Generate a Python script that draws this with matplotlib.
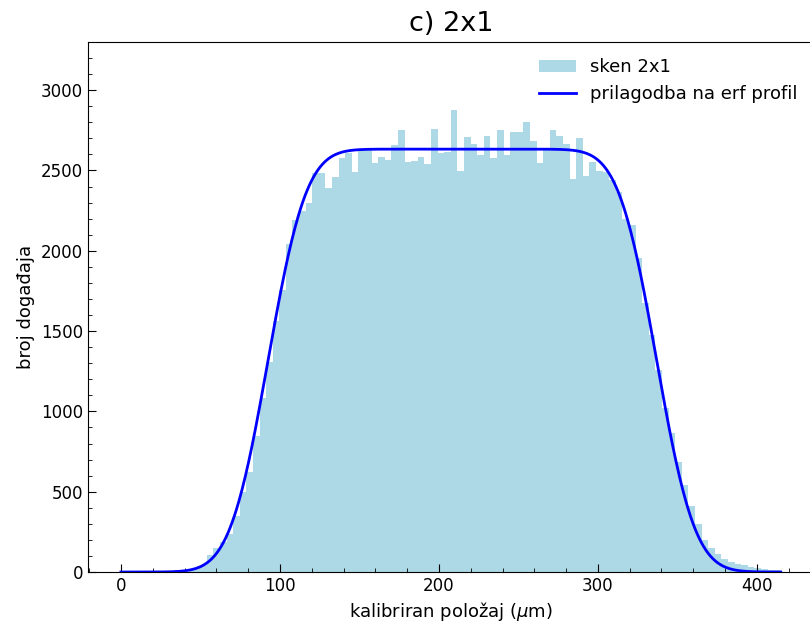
import math
import numpy as np
import matplotlib
matplotlib.use("Agg")
import matplotlib.pyplot as plt
from matplotlib.ticker import MultipleLocator

# histogram: 100 bins from 0 to 415 um
bin_lo = 0.0
bin_hi = 415.0
n_bins = 100
counts = [
    0, 0, 1, 1, 2, 3, 5, 8, 10, 14,
    20, 25, 42, 108, 150, 185, 235, 350, 500, 625,
    845, 1085, 1310, 1560, 1755, 2040, 2190, 2250, 2300, 2483,
    2485, 2390, 2460, 2575, 2606, 2492, 2630, 2630, 2544, 2581,
    2568, 2658, 2751, 2554, 2560, 2585, 2539, 2761, 2606, 2616,
    2876, 2499, 2709, 2668, 2595, 2716, 2575, 2755, 2595, 2740,
    2740, 2803, 2684, 2547, 2631, 2751, 2714, 2662, 2444, 2705,
    2465, 2554, 2499, 2492, 2440, 2367, 2201, 2160, 1953, 1674,
    1475, 1257, 1021, 865, 687, 541, 410, 300, 200, 150,
    110, 80, 60, 48, 42, 32, 27, 20, 15, 10,
]

# erf profile fit parameters
fit_amp = 2633.0
fit_mu1 = 92.5
fit_mu2 = 337.0
fit_sigma = 19.0

edges = np.linspace(bin_lo, bin_hi, n_bins + 1)
centres = 0.5 * (edges[:-1] + edges[1:])

erf = np.vectorize(math.erf)
x_fit = np.linspace(bin_lo, bin_hi, 600)
s = fit_sigma * math.sqrt(2)
y_fit = fit_amp / 2 * (erf((x_fit - fit_mu1) / s) - erf((x_fit - fit_mu2) / s))

fig = plt.figure(figsize=(8.1, 6.24), dpi=100)
ax = fig.add_axes([0.1086, 0.0833, 0.896, 0.8494])

ax.hist(centres, bins=edges, weights=counts, color="lightblue", label="sken 2x1")
ax.plot(x_fit, y_fit, color="blue", lw=2, label="prilagodba na erf profil")

ax.set_xlim(-20.75, 435.75)
ax.set_ylim(0, 3300)
ax.xaxis.set_minor_locator(MultipleLocator(20))
ax.yaxis.set_major_locator(MultipleLocator(500))
ax.yaxis.set_minor_locator(MultipleLocator(100))
ax.tick_params(which="both", direction="in", labelsize=12)
ax.tick_params(which="major", length=6)
ax.tick_params(which="minor", length=3)

ax.set_title("c) 2x1", fontsize=19.5, pad=8)
ax.set_xlabel(r"kalibriran položaj ($\mu$m)", fontsize=13)
ax.set_ylabel("broj događaja", fontsize=13)
ax.legend(loc="upper right", frameon=False, fontsize=13)

fig.savefig("out.png", dpi=100)
